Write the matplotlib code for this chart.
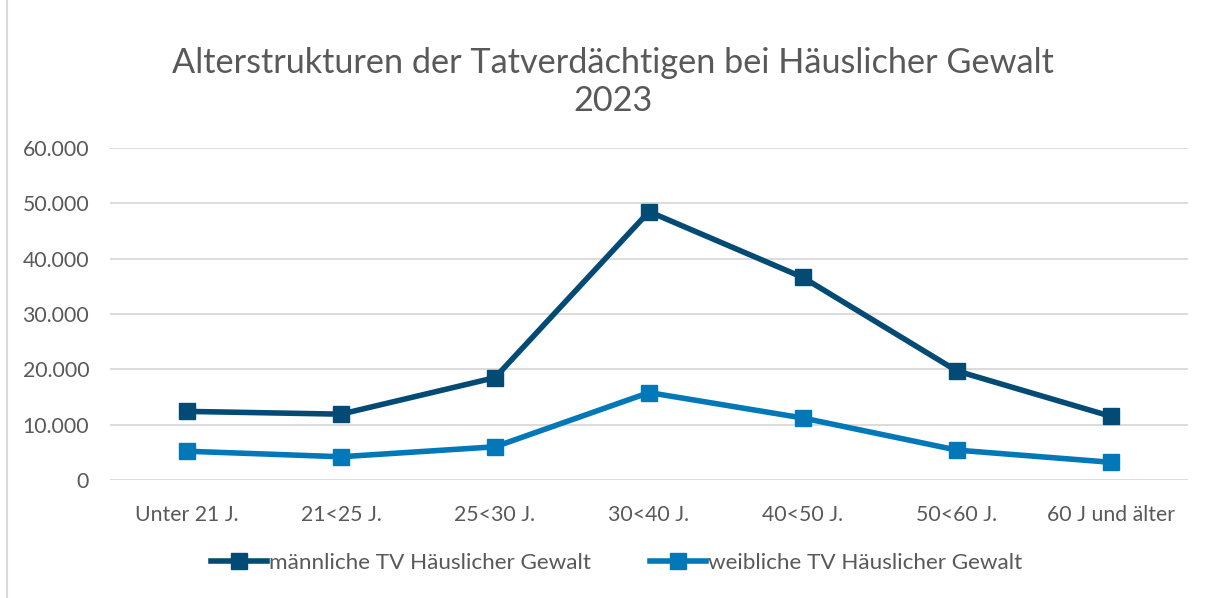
import matplotlib
matplotlib.use("Agg")
import matplotlib.pyplot as plt
from matplotlib.ticker import FuncFormatter
from matplotlib.lines import Line2D

categories = ["Unter 21 J.", "21<25 J.", "25<30 J.", "30<40 J.", "40<50 J.", "50<60 J.", "60 J und älter"]
male = [12400, 11900, 18500, 48500, 36600, 19700, 11500]
female = [5200, 4200, 6000, 15800, 11200, 5400, 3200]
series_names = ["männliche TV Häuslicher Gewalt", "weibliche TV Häuslicher Gewalt"]
title = "Alterstrukturen der Tatverdächtigen bei Häuslicher Gewalt\n2023"

c_male = "#034a74"
c_female = "#0278b8"
txt = "#595959"

plt.rcParams['font.family'] = ['Lato', 'DejaVu Sans']

fig = plt.figure(figsize=(12.16, 5.98), dpi=100)
ax = fig.add_axes([110/1216, 1-480/598, (1188-110)/1216, (480-148)/598])

x = list(range(len(categories)))
ax.plot(x, male, color=c_male, lw=4, marker='s', ms=11, solid_joinstyle='round', zorder=3)
ax.plot(x, female, color=c_female, lw=4, marker='s', ms=11, solid_joinstyle='round', zorder=3)

ax.set_xlim(-0.5, len(categories)-0.5)
ax.set_ylim(0, 60000)
ax.set_yticks(range(0, 60001, 10000))
ax.yaxis.set_major_formatter(FuncFormatter(lambda v, p: f"{int(v):,}".replace(",", ".")))
ax.set_xticks(x)
ax.set_xticklabels(categories)
ax.grid(axis='y', color='#d9d9d9', lw=1.3)
ax.set_axisbelow(True)
for s in ax.spines.values():
    s.set_visible(False)
ax.tick_params(axis='both', length=0, labelsize=15.3, colors=txt)
ax.tick_params(axis='y', pad=15)
ax.tick_params(axis='x', pad=18)

fig.text(0.504, 1-82/598, title, ha='center', va='center', fontsize=24.7, color=txt, linespacing=1.25)

handles = [Line2D([], [], color=c_male, lw=4, marker='s', ms=11),
           Line2D([], [], color=c_female, lw=4, marker='s', ms=11)]
fig.legend(handles, series_names, loc='center', bbox_to_anchor=(0.507, 1-563/598), ncol=2,
           frameon=False, fontsize=16.2, labelcolor=txt, handlelength=2.5, handletextpad=0.08,
           columnspacing=2.6)

fig.add_artist(Line2D([7/1216, 7/1216], [0, 1], color='#d9d9d9', lw=1.5, transform=fig.transFigure))

fig.savefig("out.png", dpi=100)
